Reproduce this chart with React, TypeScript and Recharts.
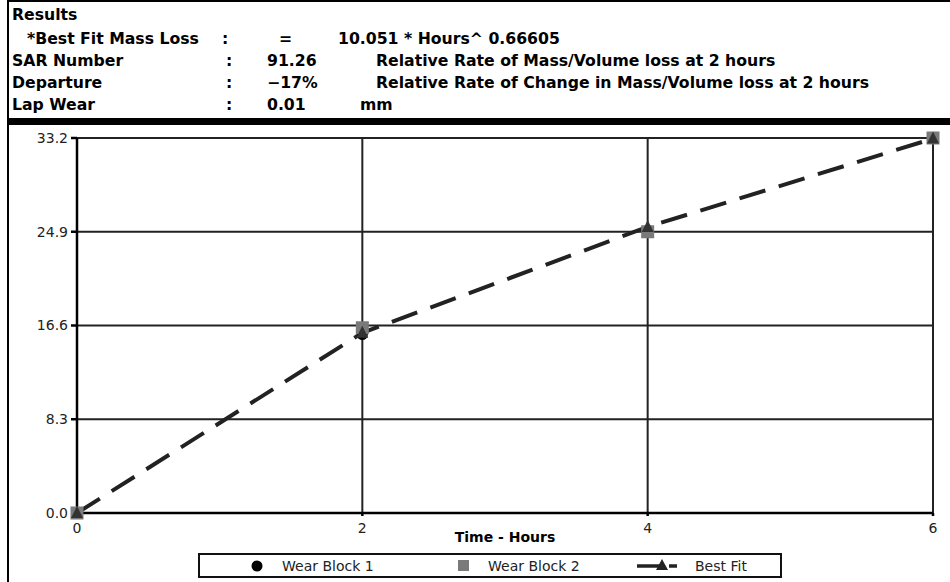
import React from 'react'
import { ComposedChart, Line, Scatter, XAxis, YAxis, CartesianGrid } from 'recharts'

const hours = [0, 2, 4, 6]
const wearBlock1 = [0, 15.8, 24.9, 33.2]
const wearBlock2 = [0, 16.4, 24.9, 33.2]
const bestFit = [0, 15.95, 25.33, 33.15]
const yTicks = [0, 8.3, 16.6, 24.9, 33.2]

const headerRows = [
  { label: '*Best Fit Mass Loss', sep: ':', value: '=', text: '10.051 * Hours^ 0.66605' },
  { label: 'SAR Number', sep: ':', value: '91.26', text: 'Relative Rate of Mass/Volume loss at 2 hours' },
  { label: 'Departure', sep: ':', value: '\u221217%', text: 'Relative Rate of Change in Mass/Volume loss at 2 hours' },
  { label: 'Lap Wear', sep: ':', value: '0.01', text: 'mm' },
]

const w1 = hours.map((x, i) => ({ x, y: wearBlock1[i] }))
const w2 = hours.map((x, i) => ({ x, y: wearBlock2[i] }))
const fit = hours.map((x, i) => ({ x, y: bestFit[i] }))

const bodyFont = '"DejaVu Sans", Verdana, sans-serif'

const Triangle = (props: any) => {
  const { cx, cy } = props
  if (cx == null || cy == null) return <g />
  return <polygon points={`${cx},${cy - 7} ${cx - 6},${cy + 5} ${cx + 6},${cy + 5}`} fill="#333" />
}

const Square = (props: any) => {
  const { cx, cy } = props
  return <rect x={cx - 6.5} y={cy - 6.5} width={13} height={13} fill="#7a7a7a" />
}

const Dot = (props: any) => {
  const { cx, cy } = props
  return <circle cx={cx} cy={cy} r={5.5} fill="#000" />
}

function Header() {
  // x positions relative to the page
  const labelX = [27, 12, 12, 12]
  const sepX = [222, 226, 226, 226]
  const valueX = [279, 267, 267, 267]
  const textX = [338, 376, 376, 360]
  return (
    <div style={{ position: 'absolute', left: 0, top: 0, width: 950, height: 118, fontFamily: bodyFont, fontWeight: 'bold', fontSize: 15.7, color: '#000', lineHeight: '18px' }}>
      <div style={{ position: 'absolute', left: 7, top: 0, width: 943, height: 2, background: '#000' }} />
      <div style={{ position: 'absolute', left: 12, top: 6 }}>Results</div>
      {headerRows.map((r, i) => (
        <React.Fragment key={i}>
          <div style={{ position: 'absolute', left: labelX[i], top: 30 + i * 22 }}>{r.label}</div>
          <div style={{ position: 'absolute', left: sepX[i], top: 30 + i * 22 }}>{r.sep}</div>
          <div style={{ position: 'absolute', left: valueX[i], top: 30 + i * 22 }}>{r.value}</div>
          <div style={{ position: 'absolute', left: textX[i], top: 30 + i * 22 }}>{r.text}</div>
        </React.Fragment>
      ))}
    </div>
  )
}

function LegendBox() {
  const item = { position: 'absolute' as const, top: 3, fontSize: 14, fontFamily: bodyFont, color: '#222' }
  return (
    <div style={{ position: 'absolute', left: 198, top: 553, width: 584, height: 25, border: '2px solid #111', boxSizing: 'border-box', background: '#fff' }}>
      <svg style={{ position: 'absolute', left: 0, top: 0 }} width={580} height={21}>
        <circle cx={57} cy={11} r={5.5} fill="#000" />
        <rect x={258} y={5} width={11} height={11} fill="#7a7a7a" />
        <line x1={437} y1={11} x2={460} y2={11} stroke="#222" strokeWidth={3.5} />
        <polygon points="462,4 456,15 468,15" fill="#222" />
        <line x1={469} y1={11} x2={477} y2={11} stroke="#222" strokeWidth={3.5} />
      </svg>
      <span style={{ ...item, left: 82 }}>Wear Block 1</span>
      <span style={{ ...item, left: 288 }}>Wear Block 2</span>
      <span style={{ ...item, left: 495 }}>Best Fit</span>
    </div>
  )
}

export default function App() {
  return (
    <div style={{ position: 'relative', width: 950, height: 582, background: '#fff', overflow: 'hidden' }}>
      <style>{'body{margin:0}'}</style>
      <Header />
      <div style={{ position: 'absolute', left: 7, top: 118, width: 943, height: 7, background: '#000' }} />
      <div style={{ position: 'absolute', left: 7, top: 0, width: 2, height: 582, background: '#000' }} />
      <div style={{ position: 'absolute', left: 0, top: 0 }}>
        <ComposedChart width={950} height={582} margin={{ top: 138, right: 17, left: 0, bottom: 0 }}>
          <CartesianGrid stroke="#222" strokeWidth={2} horizontalValues={yTicks} verticalValues={hours} />
          <XAxis
            type="number"
            dataKey="x"
            domain={[0, 6]}
            ticks={hours}
            height={69}
            tickSize={3}
            tickMargin={7}
            stroke="#000"
            strokeWidth={2.5}
            tick={{ fill: '#222', fontSize: 14, fontFamily: bodyFont }}
            label={{ value: 'Time - Hours', position: 'insideBottom', offset: 40, fill: '#000', fontSize: 14, fontWeight: 'bold', fontFamily: bodyFont }}
          />
          <YAxis
            type="number"
            dataKey="y"
            domain={[0, 33.2]}
            ticks={yTicks}
            width={77}
            tickSize={6}
            tickMargin={3}
            stroke="#000"
            strokeWidth={2.5}
            tickFormatter={(v: number) => v.toFixed(1)}
            tick={{ fill: '#222', fontSize: 14, fontFamily: bodyFont }}
          />
          <Scatter name="Wear Block 1" data={w1} dataKey="y" shape={<Dot />} isAnimationActive={false} />
          <Scatter name="Wear Block 2" data={w2} dataKey="y" shape={<Square />} isAnimationActive={false} />
          <Line
            name="Best Fit"
            data={fit}
            dataKey="y"
            type="linear"
            stroke="#222"
            strokeWidth={4}
            strokeDasharray="27 14"
            dot={<Triangle />}
            activeDot={false}
            isAnimationActive={false}
          />
        </ComposedChart>
      </div>
      <LegendBox />
    </div>
  )
}
